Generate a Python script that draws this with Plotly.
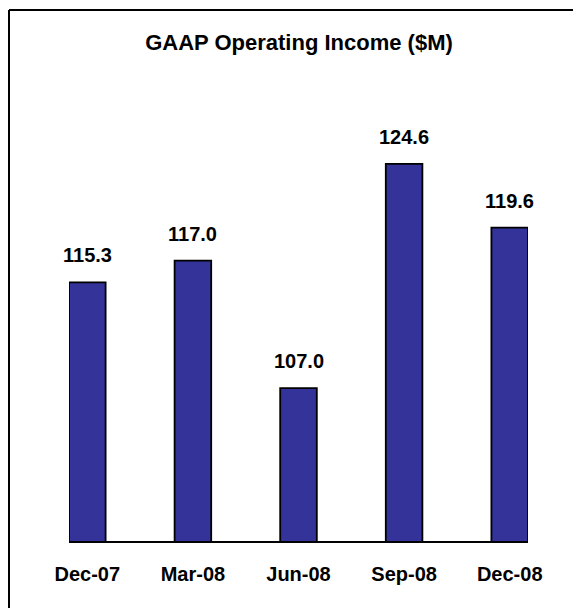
import plotly.graph_objects as go

# Данные графика
quarters = ['Dec-07', 'Mar-08', 'Jun-08', 'Sep-08', 'Dec-08']
income = [115.3, 117.0, 107.0, 124.6, 119.6]
labels = ['115.3', '117.0', '107.0', '124.6', '119.6']

W, H = 573, 608
ML, MR, MT, MB = 69, 45, 95, 67
FONT = 'Liberation Sans, Arial, sans-serif'

fig = go.Figure()
fig.add_trace(go.Bar(x=quarters, y=income, width=0.3465,
                     marker=dict(color='#333399', line=dict(color='black', width=1.8)),
                     hoverinfo='skip'))

# Подписи значений над столбцами
for q, v, t in zip(quarters, income, labels):
    fig.add_annotation(x=q, y=v, text='<b>%s</b>' % t, showarrow=False,
                       yanchor='bottom', yshift=14,
                       font=dict(family=FONT, size=20, color='black'))

# Рамка (видны только левая и верхняя стороны)
pw, ph = W - ML - MR, H - MT - MB
px = lambda p: (p - ML) / pw
py = lambda p: (H - MB - p) / ph
fig.add_shape(type='line', xref='paper', yref='paper', x0=px(9), x1=px(9), y0=py(10), y1=py(H),
              line=dict(color='black', width=2))
fig.add_shape(type='line', xref='paper', yref='paper', x0=px(9), x1=px(W), y0=py(10), y1=py(10),
              line=dict(color='black', width=2))

fig.update_layout(
    width=W, height=H,
    margin=dict(l=ML, r=MR, t=MT, b=MB),
    plot_bgcolor='white', paper_bgcolor='white',
    showlegend=False,
    title=dict(text='<b>GAAP Operating Income ($M)</b>', x=px(299), xanchor='center', xref='paper',
               y=1 - 42 / H, yanchor='middle',
               font=dict(family=FONT, size=22, color='black')),
    xaxis=dict(range=[-0.1733, 4.1733], showline=True, linecolor='black', linewidth=2,
               ticks='outside', ticklen=14, tickcolor='rgba(0,0,0,0)',
               tickfont=dict(family=FONT, size=20, color='black'),
               showgrid=False, zeroline=False, fixedrange=True),
    yaxis=dict(range=[95, 130], visible=False, showgrid=False, zeroline=False, fixedrange=True),
)
fig.update_xaxes(tickprefix='<b>', ticksuffix='</b>')

# убираем стандартный отступ страницы и полосы прокрутки
fig.write_html('out.html', config={'displayModeBar': False},
               post_script="document.body.style.margin='0';document.body.style.overflow='hidden';"
                           "document.documentElement.style.overflow='hidden';")
